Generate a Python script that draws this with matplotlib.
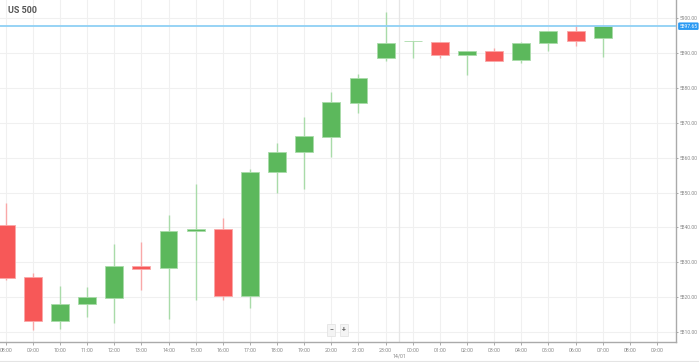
import matplotlib.pyplot as plt
import numpy as np

plt.rcParams['font.family'] = ['Roboto', 'DejaVu Sans']

# hourly candles, 13/01 08:00 -> 14/01 07:00 (no 22:00 bar)
hours = ['08:00', '09:00', '10:00', '11:00', '12:00', '13:00', '14:00',
         '15:00', '16:00', '17:00', '18:00', '19:00', '20:00', '21:00',
         '23:00', '00:00', '01:00', '02:00', '03:00', '04:00', '05:00',
         '06:00', '07:00', '08:00', '09:00']
opens = [5840.7, 5825.7, 5813.2, 5818.0, 5819.9, 5829.1, 5828.3, 5838.9,
         5839.6, 5820.5, 5855.8, 5861.5, 5866.0, 5875.6, 5888.5, 5893.3,
         5893.0, 5889.5, 5890.5, 5887.9, 5892.8, 5896.4, 5894.4]
highs = [5846.9, 5826.9, 5823.3, 5822.9, 5835.3, 5835.8, 5843.6, 5852.4,
         5842.8, 5856.7, 5864.3, 5871.6, 5878.7, 5883.9, 5901.6, 5893.3,
         5893.0, 5890.6, 5891.5, 5893.2, 5896.4, 5898.0, 5898.0]
lows = [5825.0, 5810.7, 5810.9, 5814.5, 5812.6, 5822.1, 5813.8, 5819.2,
        5819.2, 5816.9, 5850.0, 5851.0, 5860.3, 5872.9, 5887.7, 5888.5,
        5888.5, 5883.7, 5887.8, 5887.0, 5890.6, 5892.0, 5888.9]
closes = [5825.5, 5813.2, 5818.0, 5820.2, 5829.1, 5828.2, 5839.1, 5839.7,
          5820.4, 5856.0, 5861.5, 5866.2, 5875.9, 5882.9, 5892.9, 5893.3,
          5889.4, 5890.6, 5887.8, 5892.8, 5896.4, 5893.4, 5897.8]
last_price = 5897.65
yticks = [5810, 5820, 5830, 5840, 5850, 5860, 5870, 5880, 5890, 5900]

green, green_l = '#5cb85c', '#a9dba9'
red, red_l = '#f75858', '#f9a8a8'
grey = '#888888'

fig = plt.figure(figsize=(6.99, 3.62), dpi=100)
ax = fig.add_axes([0, 20/362, 676/699, 342/362])

o = np.array(opens)
c = np.array(closes)
x = np.arange(len(o))
up = c >= o
body_col = np.where(up, green, red)
wick_col = np.where(up, green_l, red_l)

ax.vlines(x, lows, highs, colors=wick_col, lw=1, zorder=2)
ax.bar(x, c - o, bottom=o, width=0.66, color=body_col,
       edgecolor=wick_col, linewidth=0.6, zorder=3)

# day separator
ax.axvline(14.5, color='#e6e6e6', lw=0.9, zorder=1)
ax.text(14.5, -0.035, '14/01', transform=ax.get_xaxis_transform(),
        ha='center', va='top', fontsize=3.8, color=grey)

# last price line + label
ax.axhline(last_price, color='#8fd0f5', lw=1.3, zorder=4)
ax.text(1.005, last_price, '%.2f' % last_price,
        transform=ax.get_yaxis_transform(), ha='left', va='center',
        fontsize=3.6, color='white', clip_on=False,
        bbox=dict(boxstyle='round,pad=0.25', fc='#2b9af3', ec='none'))

ax.set_xlim(-0.21, 24.7)
ax.set_ylim(5807.2, 5905.15)
ax.set_xticks(np.arange(len(hours)))
ax.set_xticklabels(hours)
ax.set_yticks(yticks)
ax.set_yticklabels(['%.2f' % v for v in yticks])
ax.yaxis.tick_right()
ax.tick_params(axis='x', labelsize=3.8, colors=grey, length=2, width=0.5,
               pad=2)
ax.tick_params(axis='y', labelsize=3.6, colors=grey, length=1.5, width=0.5,
               pad=1)
ax.grid(True, color='#f0f0f0', lw=0.8, zorder=0)
ax.set_axisbelow(True)

for s in ['top', 'left']:
    ax.spines[s].set_visible(False)
for s in ['right', 'bottom']:
    ax.spines[s].set_color('#aaaaaa')
    ax.spines[s].set_linewidth(1)

ax.text(0.012, 0.97, 'US 500', transform=ax.transAxes, fontsize=6.5,
        fontweight='bold', color='#555555', va='center', ha='left')

# zoom buttons
for xb, t in [(12.0, '\u2212'), (12.45, '+')]:
    ax.text(xb, 5810.6, t, ha='center', va='center', fontsize=5,
            fontweight='bold', color='#666666',
            bbox=dict(boxstyle='square,pad=0.3', fc='#f4f4f4', ec='#e0e0e0',
                      lw=0.5))

fig.add_artist(plt.Line2D([0, 1], [1.5/362, 1.5/362], color='#e4e4e4',
                          lw=0.8))

fig.savefig('out.png', dpi=100)
